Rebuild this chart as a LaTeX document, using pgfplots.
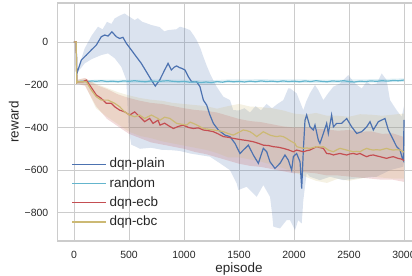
\documentclass[border=0pt]{standalone}
\usepackage{fontspec}
\setmainfont{Liberation Sans}
\usepackage{pgfplots}
\pgfplotsset{compat=1.18}
\usepgfplotslibrary{fillbetween}
\definecolor{cblue}{RGB}{76,114,176}
\definecolor{ccyan}{RGB}{100,181,205}
\definecolor{cred}{RGB}{196,78,82}
\definecolor{cyel}{RGB}{204,185,116}
\begin{document}
\begin{tikzpicture}
\begin{axis}[
  at={(0,0)}, anchor=south west,
  scale only axis, width=363bp, height=238bp,
  xmin=-150, xmax=3150, ymin=-932, ymax=183,
  xtick={0,500,1000,1500,2000,2500,3000},
  ytick={-800,-600,-400,-200,0},
  yticklabels={−800,−600,−400,−200,0},
  /pgf/number format/assume math mode=true,
  /pgf/number format/1000 sep={},
  major tick length=0pt,
  grid=major,
  grid style={black!20, line width=0.9bp},
  axis line style={black!20, line width=1.2bp},
  tick label style={font=\fontsize{10.5}{12}\selectfont, text=black!85, inner sep=0pt},
  xticklabel shift=10bp,
  yticklabel shift=9bp,
  xlabel={episode}, ylabel={reward},
  label style={font=\fontsize{13.5}{15}\selectfont, text=black!85, inner sep=0pt},
  xlabel style={at={(axis description cs:0.5,-0.0924)}, anchor=north},
  ylabel style={at={(axis description cs:-0.12,0.5)}, anchor=center},
  legend style={at={(axis description cs:0.03,0.37)}, anchor=north west, draw=none, fill=none,
    font=\fontsize{13.5}{15}\selectfont, text=black!85, row sep=0pt,
    nodes={inner sep=2.8bp, text height=10bp, text depth=3.5bp}},
  legend cell align=left,
  legend image code/.code={\draw[#1, line width=1.2bp] (0bp,0bp) -- (28bp,0bp); \path (0bp,0bp) -- (34bp,0bp);},
]
% ---------- bands ----------
% dqn-plain
\addplot[name path=bu, draw=none, forget plot] coordinates {
(25,-140)(36,-125)(97,-30)(160,30)(218,72)(260,60)(300,95)(340,85)(370,111)(420,125)(460,134)(500,120)(552,103)(580,112)(620,95)(660,88)(703,80)(780,70)(820,50)(855,56)(930,60)(964,72)(1010,65)(1055,56)(1090,30)(1115,9)(1150,-30)(1176,-69)(1206,-110)(1236,-147)(1267,-180)(1297,-209)(1330,-235)(1358,-256)(1418,-272)(1448,-319)(1500,-320)(1550,-310)(1600,-330)(1650,-300)(1700,-320)(1750,-290)(1800,-310)(1850,-290)(1903,-272)(1948,-217)(1964,-217)(2024,-240)(2085,-319)(2110,-280)(2145,-240)(2191,-201)(2221,-225)(2267,-272)(2310,-240)(2358,-209)(2418,-194)(2494,-155)(2555,-194)(2615,-217)(2661,-186)(2700,-200)(2752,-194)(2797,-147)(2842,-178)(2873,-272)(2933,-319)(2979,-350)(3000,-300)};
\addplot[name path=bl, draw=none, forget plot] coordinates {
(25,-160)(36,-140)(97,-100)(160,-80)(248,-61)(309,-53)(370,-76)(430,-116)(476,-178)(495,-400)(520,-480)(600,-500)(700,-495)(800,-505)(873,-506)(960,-510)(1055,-522)(1150,-530)(1236,-537)(1327,-568)(1418,-600)(1479,-662)(1494,-693)(1570,-678)(1615,-701)(1661,-725)(1721,-670)(1782,-725)(1800,-800)(1812,-865)(1873,-873)(1933,-834)(1964,-834)(2009,-881)(2039,-834)(2070,-850)(2085,-740)(2115,-615)(2145,-631)(2236,-647)(2327,-631)(2448,-647)(2570,-639)(2752,-631)(2873,-600)(2994,-584)(3000,-560)};
\addplot[cblue, fill opacity=0.2, draw=none, forget plot] fill between[of=bu and bl];
% random
\addplot[name path=ru, draw=none, forget plot] coordinates {
(25,-181)(200,-176)(500,-176)(800,-175)(1000,-176)(1200,-180)(1400,-175)(1700,-174)(2000,-175)(2300,-176)(2600,-175)(2800,-173)(3000,-170)};
\addplot[name path=rl, draw=none, forget plot] coordinates {
(25,-196)(200,-192)(500,-192)(800,-191)(1000,-192)(1200,-197)(1400,-191)(1700,-190)(2000,-191)(2300,-192)(2600,-191)(2800,-189)(3000,-186)};
\addplot[ccyan, fill opacity=0.2, draw=none, forget plot] fill between[of=ru and rl];
% dqn-ecb
\addplot[name path=eu, draw=none, forget plot] coordinates {
(25,-185)(36,-176)(100,-168)(200,-200)(300,-220)(400,-245)(500,-262)(600,-275)(700,-285)(800,-290)(900,-300)(1000,-310)(1100,-318)(1200,-322)(1300,-330)(1400,-345)(1500,-360)(1600,-370)(1700,-375)(1800,-385)(1900,-395)(2000,-400)(2100,-400)(2200,-405)(2300,-410)(2400,-415)(2500,-412)(2600,-420)(2700,-418)(2800,-430)(2900,-428)(3000,-445)};
\addplot[name path=el, draw=none, forget plot] coordinates {
(25,-195)(36,-196)(100,-205)(200,-300)(300,-360)(400,-395)(500,-430)(600,-450)(700,-470)(800,-480)(900,-490)(1000,-500)(1100,-515)(1200,-525)(1300,-540)(1400,-555)(1500,-570)(1600,-580)(1700,-585)(1800,-595)(1900,-605)(2000,-615)(2100,-610)(2200,-615)(2300,-625)(2400,-625)(2500,-630)(2600,-635)(2700,-640)(2800,-645)(2900,-645)(3000,-655)};
\addplot[cred, fill opacity=0.2, draw=none, forget plot] fill between[of=eu and el];
% dqn-cbc
\addplot[name path=cu, draw=none, forget plot] coordinates {
(25,-185)(36,-176)(100,-170)(200,-195)(300,-215)(400,-235)(500,-250)(600,-262)(700,-270)(800,-275)(900,-285)(1000,-290)(1100,-295)(1200,-300)(1300,-312)(1400,-300)(1500,-290)(1600,-302)(1700,-305)(1800,-310)(1900,-320)(2000,-335)(2100,-340)(2200,-332)(2300,-345)(2400,-345)(2500,-350)(2600,-338)(2700,-340)(2800,-345)(2900,-340)(3000,-335)};
\addplot[name path=cl, draw=none, forget plot] coordinates {
(25,-195)(36,-196)(100,-200)(200,-310)(300,-350)(400,-385)(500,-420)(600,-440)(700,-450)(800,-465)(900,-475)(1000,-485)(1100,-495)(1200,-505)(1300,-520)(1400,-540)(1500,-540)(1600,-550)(1700,-560)(1800,-575)(1900,-590)(2000,-610)(2100,-630)(2200,-650)(2300,-660)(2400,-640)(2500,-650)(2600,-640)(2700,-630)(2800,-635)(2900,-640)(3000,-640)};
\addplot[cyel, fill opacity=0.2, draw=none, forget plot] fill between[of=cu and cl];
% ---------- lines ----------
\addplot[cblue, line width=1.2bp] coordinates {
(0,0)(20,0)(25,-150)(36,-131)(67,-84)(112,-61)(158,-37)(203,-14)(248,25)(279,33)(309,28)(345,48)(385,25)(415,17)(445,22)(476,-6)(521,-37)(567,-69)(612,-100)(658,-139)(703,-178)(739,-206)(779,-178)(824,-131)(855,-100)(885,-131)(910,-118)(933,-112)(960,-120)(979,-123)(1009,-131)(1039,-162)(1070,-186)(1115,-186)(1145,-209)(1176,-272)(1206,-295)(1236,-342)(1267,-381)(1312,-412)(1373,-436)(1418,-443)(1464,-475)(1509,-522)(1539,-506)(1585,-483)(1630,-529)(1676,-568)(1721,-498)(1752,-514)(1782,-561)(1827,-592)(1873,-568)(1918,-529)(1948,-553)(1979,-600)(1994,-537)(2024,-522)(2055,-561)(2070,-686)(2085,-506)(2100,-366)(2115,-342)(2145,-397)(2176,-412)(2191,-389)(2221,-459)(2236,-475)(2267,-428)(2297,-381)(2312,-428)(2342,-342)(2358,-397)(2388,-381)(2433,-381)(2479,-358)(2524,-397)(2570,-428)(2615,-420)(2661,-397)(2691,-373)(2721,-412)(2767,-373)(2827,-358)(2858,-412)(2888,-443)(2933,-490)(2964,-506)(2985,-545)(2995,-555)(3000,-365)};
\addlegendentry{dqn-plain}
\addplot[ccyan, line width=1.2bp] coordinates {
(0,0)(20,0)(25,-188)(40,-185)(80,-183)(120,-186)(160,-182)(200,-184)(250,-181)(300,-185)(350,-183)(400,-186)(450,-182)(500,-184)(550,-181)(600,-184)(650,-186)(700,-182)(750,-185)(800,-183)(850,-181)(900,-184)(950,-186)(1000,-184)(1050,-188)(1100,-186)(1150,-190)(1200,-187)(1250,-190)(1300,-185)(1350,-188)(1400,-183)(1450,-186)(1500,-184)(1550,-187)(1600,-183)(1650,-186)(1700,-182)(1750,-185)(1800,-183)(1850,-186)(1900,-182)(1950,-185)(2000,-183)(2050,-186)(2100,-182)(2150,-185)(2200,-181)(2250,-184)(2300,-186)(2350,-182)(2400,-184)(2450,-181)(2500,-185)(2550,-187)(2600,-183)(2650,-185)(2700,-182)(2750,-184)(2800,-181)(2850,-183)(2900,-180)(2950,-181)(3000,-178)};
\addlegendentry{random}
\addplot[cred, line width=1.2bp] coordinates {
(0,0)(20,0)(25,-190)(36,-186)(82,-186)(112,-178)(142,-201)(173,-225)(203,-248)(248,-264)(294,-287)(339,-287)(370,-303)(415,-319)(461,-327)(506,-342)(552,-327)(597,-350)(642,-373)(688,-358)(718,-381)(764,-366)(782,-389)(824,-380)(860,-392)(903,-405)(950,-395)(994,-389)(1040,-400)(1085,-405)(1130,-402)(1176,-412)(1220,-415)(1267,-420)(1310,-430)(1358,-443)(1400,-446)(1448,-451)(1490,-455)(1539,-459)(1580,-462)(1630,-467)(1680,-475)(1721,-483)(1770,-485)(1812,-490)(1860,-493)(1903,-498)(1950,-505)(1994,-514)(2024,-506)(2055,-510)(2085,-514)(2115,-509)(2145,-506)(2175,-498)(2206,-490)(2240,-495)(2267,-498)(2297,-522)(2330,-524)(2358,-529)(2388,-525)(2418,-522)(2450,-526)(2479,-529)(2510,-524)(2539,-522)(2570,-526)(2600,-522)(2630,-530)(2661,-537)(2690,-531)(2721,-529)(2750,-533)(2782,-537)(2812,-541)(2842,-545)(2872,-540)(2903,-537)(2930,-542)(2948,-545)(2975,-548)(2994,-553)(3000,-556)};
\addlegendentry{dqn-ecb}
\addplot[cyel, line width=1.2bp] coordinates {
(0,0)(20,0)(25,-190)(36,-186)(112,-186)(158,-225)(203,-256)(248,-272)(309,-272)(370,-287)(415,-303)(461,-327)(506,-342)(552,-350)(597,-342)(642,-358)(703,-342)(764,-358)(782,-366)(824,-352)(873,-358)(933,-381)(980,-385)(1024,-389)(1055,-375)(1085,-381)(1130,-392)(1176,-405)(1220,-408)(1267,-412)(1310,-415)(1358,-420)(1400,-428)(1448,-436)(1490,-425)(1539,-412)(1570,-415)(1600,-420)(1630,-430)(1661,-443)(1690,-432)(1721,-420)(1750,-428)(1782,-436)(1812,-440)(1842,-443)(1873,-440)(1903,-443)(1935,-452)(1964,-462)(2009,-475)(2024,-490)(2055,-494)(2085,-498)(2115,-496)(2145,-498)(2175,-494)(2206,-490)(2240,-492)(2267,-490)(2290,-498)(2312,-506)(2335,-510)(2358,-514)(2388,-505)(2418,-498)(2450,-502)(2479,-506)(2510,-510)(2539,-514)(2570,-512)(2600,-514)(2630,-505)(2661,-498)(2690,-503)(2721,-506)(2750,-504)(2782,-506)(2812,-502)(2842,-498)(2872,-503)(2903,-506)(2933,-504)(2964,-506)(2994,-514)(3000,-515)};
\addlegendentry{dqn-cbc}
\end{axis}
\pgfresetboundingbox
\path[use as bounding box] (-57.5bp,-35bp) rectangle (354.5bp,241bp);
\end{tikzpicture}
\end{document}
